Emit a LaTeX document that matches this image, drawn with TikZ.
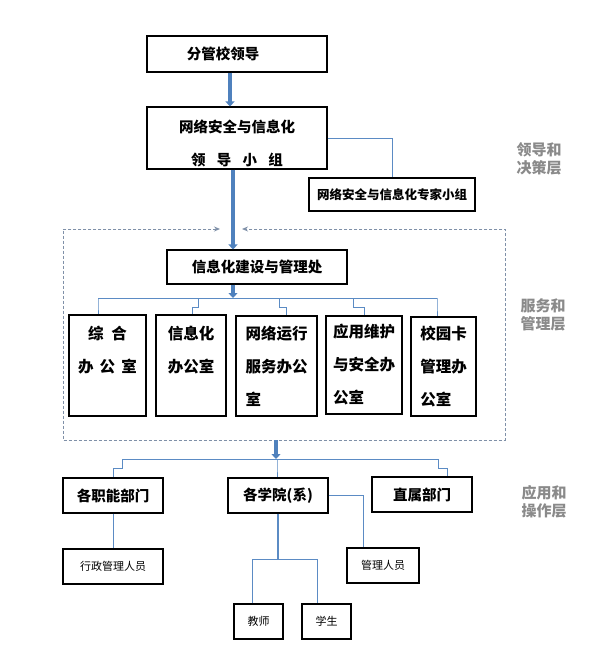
\documentclass[tikz,border=0pt]{standalone}
\usepackage{fontspec}
\setmainfont{Noto Sans CJK SC}
\usetikzlibrary{arrows.meta,calc}
\definecolor{LinkBlue}{HTML}{5B8BC4}
\definecolor{ArrBlue}{HTML}{4F81BD}
\definecolor{FrameGray}{HTML}{7F90A8}
\definecolor{LayerGray}{HTML}{8A8A8A}
\tikzset{
  orgbox/.style 2 args={draw=black, line width=1.1pt, minimum width=#1pt,
    minimum height=#2pt, inner sep=0pt, align=center,
    font=\bfseries\fontsize{14.5}{33}\selectfont},
  subbox/.style 2 args={orgbox={#1}{#2}, font=\bfseries\fontsize{15.5}{33}\selectfont},
  smallbox/.style 2 args={draw=black, line width=1.1pt, minimum width=#1pt,
    minimum height=#2pt, inner sep=0pt, font=\fontsize{11}{13}\selectfont},
  fatarr/.style={-{Triangle[length=5pt,width=9pt]}, line width=4pt, draw=ArrBlue, color=ArrBlue},
  link/.style={draw=LinkBlue, line width=0.9pt},
}

\begin{document}
\begin{tikzpicture}[x=1pt, y=-1pt,
  frame/.style={draw=FrameGray, line width=1pt, dash pattern=on 3pt off 2pt,
    {Stealth[length=6pt,width=5pt]}-{Stealth[length=6pt,width=5pt]}},
  layer/.style={font=\bfseries\fontsize{15}{18}\selectfont, text=LayerGray,
    align=center, inner sep=0pt},
]
  \useasboundingbox (0,0) rectangle (593,655);
  \fill[white] (0,0) rectangle (593,655);

  % decision layer
  \node[orgbox={180}{36}] (lead) at (237,54) {分管校领导\hspace*{28pt}};
  \node[orgbox={180}{62}] (group) at (237,138)
    {\rule{0pt}{24pt}网络安全与信息化\\领\hspace{0.78em}导\hspace{0.78em}小\hspace{0.78em}组};
  \node[orgbox={166}{33}, font=\bfseries\fontsize{12.5}{15}\selectfont] (expert) at (392,194.5)
    {网络安全与信息化专家小组};

  \coordinate (l1) at ([xshift=-7pt]lead.south);
  \draw[fatarr] (l1) -- (l1 |- group.north);
  \draw[link] (group.east) -| (expert.north);

  % service layer
  \node[orgbox={180}{34}] (office) at (257,267) {信息化建设与管理处};
  \coordinate (g1) at ([xshift=-4pt]group.south);
  \draw[fatarr] (g1) -- (g1 |- office.north);
  \draw[frame] (220,229) -- (63,229) -- (63,440) -- (505,440) -- (505,229) -- (242,229);

  \node[subbox={77}{101}] (s1) at (107.5,365.5)
    {综\hspace{0.5em}合\\办\hspace{0.4em}公\hspace{0.4em}室\\\mbox{}};
  \node[subbox={70}{101}] (s2) at (191,365.5) {信息化\\办公室\\\mbox{}};
  \node[subbox={81}{100}, align=left] (s3) at (276.5,366) {网络运行\\服务办公\\室};
  \node[subbox={76}{98}, align=left] (s4) at (364,365) {应用维护\\与安全办\\公室};
  \node[subbox={65}{99}, align=left] (s5) at (443.5,366.5) {校园卡\\管理办\\公室};

  \coordinate (busL) at (98,298);
  \coordinate (busR) at (437,298);
  \coordinate (o1) at ([xshift=-24pt]office.south);
  \draw[fatarr] (o1) -- (o1 |- busL);
  \draw[link] (busL) -- (busR);
  \foreach \n/\px/\qx in {s1/98/98, s2/198/192, s3/279/286, s4/353/364, s5/437/437}
    \draw[link] (\px,298) -- (\px,307) -- (\qx,307) -- (\qx,0 |- \n.north);

  % application layer
  \node[orgbox={100}{35}] (d1) at (113,495.5) {各职能部门};
  \node[orgbox={100}{35}] (d2) at (278,495.5) {各学院(系)};
  \node[orgbox={100}{35}] (d3) at (422,494.5) {直属部门};

  \coordinate (fs) at (276,440);
  \coordinate (busL2) at (122,459);
  \coordinate (busR2) at (438,459);
  \draw[fatarr] (fs) -- (fs |- busL2);
  \draw[link] (busL2) -- (busR2);
  \foreach \n/\px/\qx in {d1/122/113, d2/277/277, d3/438/447}
    \draw[link] (\px,459) -- (\px,468) -- (\qx,468) -- (\qx,0 |- \n.north);

  \node[smallbox={100}{35}] (p1) at (113,566.5) {行政管理人员};
  \node[smallbox={72}{35}] (p2) at (383,565.5) {管理人员};
  \node[smallbox={49}{35}] (t1) at (258.5,621.5) {教师};
  \node[smallbox={49}{35}] (t2) at (326.5,621.5) {学生};

  \draw[link] (d1.south) -- (p1.north);
  \draw[link] (d2.east) -| ([xshift=-20pt]p2.north);
  \draw[link, line width=2pt] (d2.south) -- ++(0,46) coordinate (fork);
  \draw[link] ([xshift=-6.5pt]t1.north) |- (fork) -| ([xshift=-9.5pt]t2.north);

  % layer labels
  \node[layer] (lay1) at (539,159) {领导和\\决策层};
  \node[layer] (lay2) at (543,315) {服务和\\管理层};
  \node[layer] (lay3) at (544,502) {应用和\\操作层};
\end{tikzpicture}
\end{document}
